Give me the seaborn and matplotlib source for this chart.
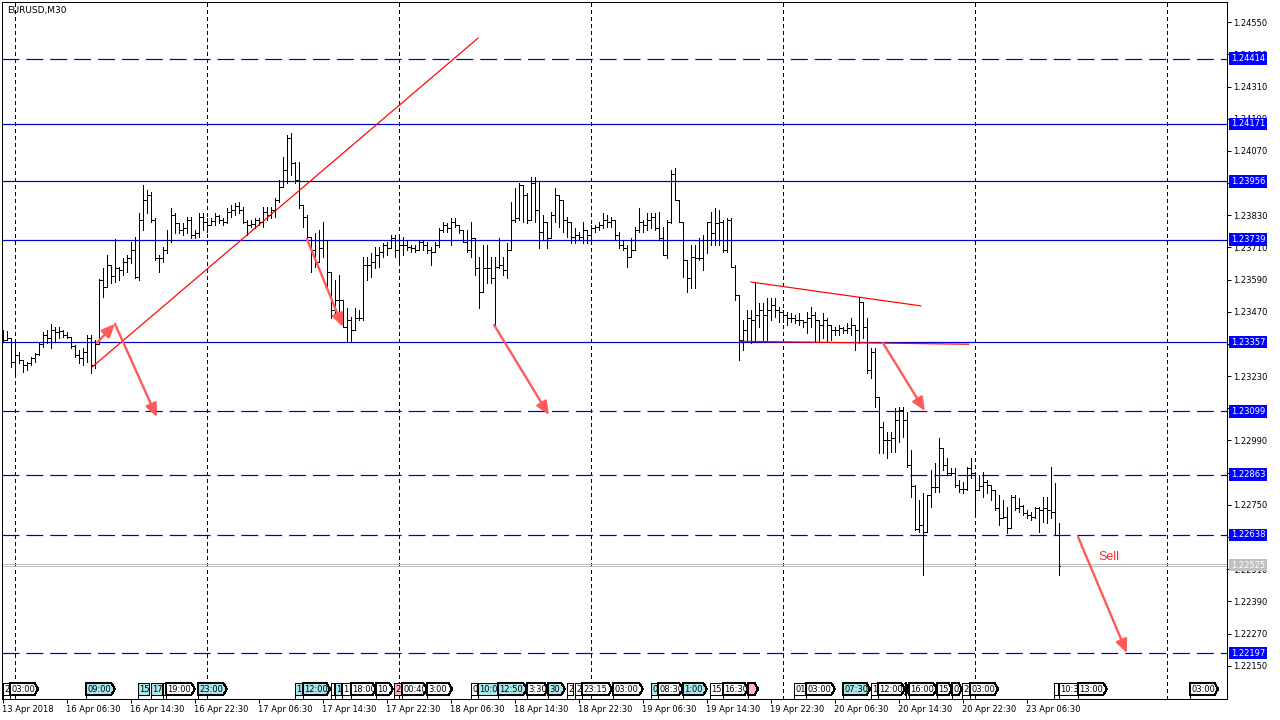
import numpy as np
import pandas as pd
import matplotlib
matplotlib.use("Agg")
import matplotlib.pyplot as plt
import matplotlib.transforms as mtrans
from matplotlib.collections import LineCollection
from matplotlib.patches import Polygon
import seaborn as sns

sns.set_style("white")
plt.rcParams['font.family'] = ['DejaVu Sans']
plt.rcParams['lines.scale_dashes'] = False

# EURUSD M30 bars, 13 Apr 22:30 .. 23 Apr 10:30
first_open = 1.23372
high = [1.23402, 1.23398, 1.23357, 1.23357, 1.23320, 1.23290, 1.23283, 1.23302, 1.23316, 1.23357,
        1.23395, 1.23402, 1.23425, 1.23413, 1.23413, 1.23402, 1.23395, 1.23376, 1.23346, 1.23328,
        1.23335, 1.23383, 1.23383, 1.23365, 1.23592, 1.23633, 1.23682, 1.23645, 1.23742, 1.23637,
        1.23671, 1.23682, 1.23730, 1.23749, 1.23838, 1.23943, 1.23924, 1.23917, 1.23820, 1.23682,
        1.23712, 1.23775, 1.23857, 1.23838, 1.23801, 1.23801, 1.23824, 1.23824, 1.23775, 1.23838,
        1.23838, 1.23820, 1.23820, 1.23838, 1.23831, 1.23820, 1.23857, 1.23868, 1.23876, 1.23880,
        1.23861, 1.23812, 1.23812, 1.23820, 1.23820, 1.23861, 1.23861, 1.23861, 1.23895, 1.23962,
        1.24047, 1.24129, 1.24137, 1.24029, 1.24029, 1.23868, 1.23831, 1.23738, 1.23764, 1.23775,
        1.23805, 1.23674, 1.23607, 1.23589, 1.23607, 1.23514, 1.23484, 1.23451, 1.23484, 1.23477,
        1.23674, 1.23674, 1.23689, 1.23712, 1.23712, 1.23727, 1.23730, 1.23757, 1.23757, 1.23745,
        1.23749, 1.23738, 1.23719, 1.23719, 1.23738, 1.23738, 1.23730, 1.23712, 1.23730, 1.23783,
        1.23805, 1.23801, 1.23820, 1.23820, 1.23794, 1.23775, 1.23775, 1.23805, 1.23745, 1.23674,
        1.23719, 1.23719, 1.23674, 1.23674, 1.23745, 1.23674, 1.23727, 1.23880, 1.23932, 1.23950,
        1.23924, 1.23913, 1.23973, 1.23973, 1.23954, 1.23831, 1.23805, 1.23842, 1.23932, 1.23906,
        1.23868, 1.23824, 1.23786, 1.23783, 1.23768, 1.23805, 1.23775, 1.23794, 1.23794, 1.23805,
        1.23838, 1.23831, 1.23824, 1.23775, 1.23768, 1.23738, 1.23719, 1.23745, 1.23786, 1.23857,
        1.23812, 1.23838, 1.23838, 1.23838, 1.23842, 1.23786, 1.23812, 1.23999, 1.24006, 1.23887,
        1.23805, 1.23663, 1.23719, 1.23719, 1.23745, 1.23757, 1.23805, 1.23842, 1.23857, 1.23850,
        1.23812, 1.23820, 1.23820, 1.23645, 1.23533, 1.23439, 1.23477, 1.23477, 1.23581, 1.23503,
        1.23503, 1.23521, 1.23521, 1.23521, 1.23488, 1.23477, 1.23469, 1.23465, 1.23458, 1.23465,
        1.23439, 1.23469, 1.23488, 1.23469, 1.23432, 1.23465, 1.23447, 1.23421, 1.23413, 1.23421,
        1.23413, 1.23428, 1.23447, 1.23421, 1.23525, 1.23439, 1.23447, 1.23335, 1.23335, 1.23152,
        1.23059, 1.23022, 1.23022, 1.23111, 1.23115, 1.23115, 1.23096, 1.22955, 1.22824, 1.22768,
        1.22794, 1.22787, 1.22880, 1.22906, 1.22999, 1.22962, 1.22925, 1.22887, 1.22887, 1.22843,
        1.22835, 1.22891, 1.22925, 1.22869, 1.22861, 1.22872, 1.22843, 1.22824, 1.22805, 1.22787,
        1.22768, 1.22742, 1.22787, 1.22787, 1.22776, 1.22749, 1.22731, 1.22723, 1.22742, 1.22742,
        1.22779, 1.22779, 1.22891, 1.22831, 1.22682]
low = [1.23357, 1.23368, 1.23264, 1.23227, 1.23279, 1.23245, 1.23253, 1.23272, 1.23283, 1.23309,
       1.23339, 1.23354, 1.23335, 1.23357, 1.23372, 1.23376, 1.23372, 1.23335, 1.23302, 1.23279,
       1.23272, 1.23283, 1.23242, 1.23260, 1.23354, 1.23525, 1.23562, 1.23577, 1.23581, 1.23589,
       1.23607, 1.23618, 1.23652, 1.23596, 1.23589, 1.23775, 1.23838, 1.23805, 1.23663, 1.23618,
       1.23656, 1.23689, 1.23730, 1.23764, 1.23764, 1.23757, 1.23764, 1.23745, 1.23745, 1.23749,
       1.23775, 1.23768, 1.23794, 1.23794, 1.23801, 1.23794, 1.23801, 1.23824, 1.23831, 1.23838,
       1.23801, 1.23757, 1.23786, 1.23783, 1.23794, 1.23786, 1.23812, 1.23820, 1.23824, 1.23880,
       1.23943, 1.23950, 1.23980, 1.23950, 1.23857, 1.23786, 1.23745, 1.23618, 1.23637, 1.23663,
       1.23674, 1.23559, 1.23447, 1.23465, 1.23451, 1.23413, 1.23357, 1.23357, 1.23402, 1.23439,
       1.23439, 1.23589, 1.23600, 1.23633, 1.23637, 1.23674, 1.23682, 1.23708, 1.23674, 1.23656,
       1.23682, 1.23701, 1.23693, 1.23693, 1.23701, 1.23701, 1.23689, 1.23645, 1.23708, 1.23712,
       1.23768, 1.23768, 1.23719, 1.23786, 1.23764, 1.23730, 1.23693, 1.23674, 1.23607, 1.23484,
       1.23589, 1.23577, 1.23577, 1.23421, 1.23633, 1.23607, 1.23596, 1.23708, 1.23805, 1.23812,
       1.23805, 1.23801, 1.23850, 1.23805, 1.23708, 1.23738, 1.23708, 1.23749, 1.23805, 1.23786,
       1.23768, 1.23749, 1.23727, 1.23727, 1.23738, 1.23727, 1.23727, 1.23730, 1.23768, 1.23775,
       1.23783, 1.23786, 1.23786, 1.23738, 1.23708, 1.23701, 1.23637, 1.23674, 1.23730, 1.23768,
       1.23768, 1.23775, 1.23783, 1.23775, 1.23738, 1.23682, 1.23671, 1.23801, 1.23887, 1.23805,
       1.23600, 1.23544, 1.23559, 1.23559, 1.23663, 1.23626, 1.23689, 1.23719, 1.23719, 1.23719,
       1.23693, 1.23693, 1.23637, 1.23514, 1.23290, 1.23328, 1.23357, 1.23354, 1.23357, 1.23413,
       1.23365, 1.23365, 1.23439, 1.23451, 1.23432, 1.23432, 1.23421, 1.23432, 1.23428, 1.23421,
       1.23413, 1.23391, 1.23413, 1.23357, 1.23357, 1.23372, 1.23357, 1.23365, 1.23383, 1.23383,
       1.23391, 1.23391, 1.23383, 1.23328, 1.23354, 1.23372, 1.23242, 1.23223, 1.23115, 1.22943,
       1.22943, 1.22925, 1.22947, 1.22947, 1.22984, 1.23003, 1.22891, 1.22779, 1.22656, 1.22649,
       1.22488, 1.22701, 1.22742, 1.22798, 1.22798, 1.22880, 1.22861, 1.22861, 1.22816, 1.22798,
       1.22794, 1.22805, 1.22850, 1.22719, 1.22805, 1.22779, 1.22794, 1.22768, 1.22731, 1.22675,
       1.22701, 1.22645, 1.22664, 1.22731, 1.22723, 1.22712, 1.22701, 1.22693, 1.22701, 1.22649,
       1.22686, 1.22682, 1.22701, 1.22638, 1.22488]
close = [1.23365, 1.23372, 1.23283, 1.23309, 1.23290, 1.23272, 1.23279, 1.23298, 1.23313, 1.23350,
         1.23383, 1.23372, 1.23402, 1.23395, 1.23398, 1.23383, 1.23376, 1.23342, 1.23309, 1.23298,
         1.23320, 1.23372, 1.23272, 1.23350, 1.23589, 1.23562, 1.23645, 1.23604, 1.23633, 1.23626,
         1.23656, 1.23671, 1.23701, 1.23600, 1.23812, 1.23887, 1.23906, 1.23812, 1.23671, 1.23671,
         1.23701, 1.23738, 1.23831, 1.23801, 1.23775, 1.23783, 1.23812, 1.23757, 1.23764, 1.23824,
         1.23805, 1.23794, 1.23809, 1.23827, 1.23812, 1.23805, 1.23842, 1.23850, 1.23865, 1.23850,
         1.23805, 1.23794, 1.23798, 1.23812, 1.23805, 1.23842, 1.23831, 1.23850, 1.23887, 1.23936,
         1.23999, 1.24118, 1.24025, 1.23962, 1.23868, 1.23824, 1.23749, 1.23701, 1.23656, 1.23708,
         1.23738, 1.23618, 1.23477, 1.23514, 1.23514, 1.23413, 1.23439, 1.23402, 1.23447, 1.23447,
         1.23645, 1.23645, 1.23656, 1.23682, 1.23693, 1.23719, 1.23708, 1.23745, 1.23701, 1.23719,
         1.23719, 1.23712, 1.23708, 1.23701, 1.23730, 1.23719, 1.23701, 1.23693, 1.23719, 1.23775,
         1.23794, 1.23783, 1.23805, 1.23794, 1.23775, 1.23730, 1.23701, 1.23745, 1.23633, 1.23544,
         1.23633, 1.23633, 1.23596, 1.23637, 1.23645, 1.23626, 1.23701, 1.23812, 1.23820, 1.23943,
         1.23906, 1.23812, 1.23950, 1.23850, 1.23768, 1.23805, 1.23745, 1.23831, 1.23906, 1.23887,
         1.23812, 1.23805, 1.23749, 1.23757, 1.23749, 1.23775, 1.23757, 1.23783, 1.23786, 1.23794,
         1.23812, 1.23805, 1.23812, 1.23757, 1.23719, 1.23708, 1.23674, 1.23701, 1.23775, 1.23805,
         1.23794, 1.23812, 1.23824, 1.23783, 1.23745, 1.23682, 1.23805, 1.23984, 1.23887, 1.23805,
         1.23663, 1.23596, 1.23674, 1.23671, 1.23671, 1.23738, 1.23805, 1.23764, 1.23801, 1.23805,
         1.23701, 1.23812, 1.23637, 1.23533, 1.23365, 1.23402, 1.23447, 1.23439, 1.23458, 1.23477,
         1.23458, 1.23477, 1.23495, 1.23477, 1.23469, 1.23458, 1.23447, 1.23447, 1.23439, 1.23439,
         1.23432, 1.23447, 1.23458, 1.23439, 1.23421, 1.23439, 1.23421, 1.23402, 1.23402, 1.23409,
         1.23402, 1.23409, 1.23421, 1.23402, 1.23506, 1.23413, 1.23253, 1.23320, 1.23152, 1.23040,
         1.22992, 1.22992, 1.22999, 1.23066, 1.23104, 1.23066, 1.22899, 1.22820, 1.22660, 1.22675,
         1.22649, 1.22787, 1.22816, 1.22816, 1.22962, 1.22899, 1.22869, 1.22869, 1.22824, 1.22809,
         1.22809, 1.22887, 1.22869, 1.22805, 1.22820, 1.22835, 1.22824, 1.22805, 1.22738, 1.22701,
         1.22705, 1.22664, 1.22779, 1.22738, 1.22746, 1.22719, 1.22712, 1.22705, 1.22738, 1.22731,
         1.22738, 1.22731, 1.22723, 1.22638, 1.22522]

# axis labels
date_bars = [0, 16, 32, 48, 64, 80, 96, 112, 128, 144, 160, 176, 192, 208, 224, 240, 256]
date_labels = ['13 Apr 2018', '16 Apr 06:30', '16 Apr 14:30', '16 Apr 22:30', '17 Apr 06:30',
               '17 Apr 14:30', '17 Apr 22:30', '18 Apr 06:30', '18 Apr 14:30', '18 Apr 22:30',
               '19 Apr 06:30', '19 Apr 14:30', '19 Apr 22:30', '20 Apr 06:30', '20 Apr 14:30',
               '20 Apr 22:30', '23 Apr 06:30']
day_starts = [3, 51, 99, 147, 195, 243, 291]
price_ticks = [1.22150, 1.22270, 1.22390, 1.22510, 1.22630, 1.22750, 1.22870, 1.22990, 1.23110,
               1.23230, 1.23350, 1.23470, 1.23590, 1.23710, 1.23830, 1.23950, 1.24070, 1.24190,
               1.24310, 1.24430, 1.24550]

# horizontal levels
solid_levels = [1.24171, 1.23956, 1.23739, 1.23357]
dashed_levels = [1.24414, 1.23099, 1.22863, 1.22638, 1.22197]
bid = 1.22525

# red trend lines: (name, bar, price)
trend = pd.DataFrame({
    'name': ['up', 'up', 'top', 'top', 'base', 'base'],
    'bar': [22.4, 118.9, 187.1, 229.6, 184.4, 241.6],
    'price': [1.23264, 1.24491, 1.23581, 1.23492, 1.23360, 1.23349],
})

# arrows: (bar0, price0, bar1, price1)
arrows = [(23.6, 1.23354, 28.1, 1.23425),
          (28.1, 1.23425, 38.6, 1.23077),
          (76.1, 1.23742, 85.1, 1.23413),
          (122.9, 1.23421, 136.6, 1.23085),
          (220.1, 1.23354, 230.6, 1.23100),
          (268.9, 1.22630, 281.1, 1.22197)]

# calendar event tags along the bottom: (start bar, end bar, text, kind, pointed)
events = [(0.1, 1.6, '2', 'w', False), (1.9, 8.9, '03:00', 'w', True),
          (20.9, 28.1, '09:00', 'c', True), (33.9, 36.6, '15', 'c', False),
          (37.1, 39.9, '17', 'c', False), (40.1, 40.6, '', 'w', False),
          (40.9, 48.1, '19:00', 'w', True), (48.9, 56.1, '23:00', 'c', True),
          (73.1, 74.9, '1', 'c', False), (75.1, 81.9, '12:00', 'c', True),
          (82.1, 82.9, '', 'w', False), (83.1, 84.6, '1', 'c', False),
          (84.9, 86.9, '1', 'w', False), (87.1, 93.4, '18:00', 'w', True),
          (93.4, 97.6, '10', 'w', True), (97.9, 99.6, '2', 'p', False),
          (99.9, 106.1, '00:40', 'w', True), (106.1, 112.4, '3:00', 'w', True),
          (117.1, 118.6, '0', 'w', False), (118.9, 123.6, '10:0', 'c', False),
          (123.9, 131.1, '12:50', 'c', True), (131.1, 136.4, '3:30', 'w', True),
          (136.4, 140.6, '30', 'c', True), (141.1, 142.6, '2', 'w', False),
          (143.1, 144.9, '2', 'w', False), (144.9, 152.4, '23:15', 'w', True),
          (152.6, 160.1, '03:00', 'w', True), (162.1, 163.6, '0', 'c', False),
          (163.9, 170.1, '08:30', 'w', True), (170.1, 176.1, '1:00', 'c', True),
          (176.9, 179.9, '15', 'w', False), (180.1, 186.4, '16:30', 'w', True),
          (186.4, 188.9, '', 'p', True), (197.9, 200.9, '01', 'w', False),
          (200.9, 208.1, '03:00', 'w', True), (210.1, 216.9, '07:30', 'c', True),
          (217.1, 218.6, '1', 'w', False), (218.9, 225.6, '12:00', 'w', True),
          (225.9, 226.6, '', 'w', True), (226.6, 233.6, '16:00', 'w', True),
          (233.6, 237.4, '15', 'w', True), (237.4, 239.9, '0', 'w', True),
          (239.9, 241.6, '2', 'w', False), (241.9, 248.9, '03:00', 'w', True),
          (262.9, 263.9, '', 'w', False), (264.1, 268.9, '10:3', 'w', False),
          (268.9, 276.1, '13:00', 'w', True), (296.9, 303.9, '03:00', 'w', True)]
event_fill = {'w': 'white', 'c': '#A8E6EC', 'p': '#FFB4BC'}

LINE_BLUE = '#0000CD'
PX = 0.72  # one pixel in points

fig = plt.figure(figsize=(12.8, 7.2), dpi=100)
ax = fig.add_axes([2 / 1280, 21 / 720, 1225 / 1280, 697 / 720])
ax.set_facecolor('white')
ax.set_xlim(-0.125, 306.125)
ax.set_ylim(1.220257, 1.246255)

# OHLC bars
opens = [first_open] + close[:-1]
segs = []
for i, (o, h, l, c) in enumerate(zip(opens, high, low, close)):
    hi, lo = max(h, o, c), min(l, o, c)
    segs.append([(i, lo), (i, hi)])
    segs.append([(i - 0.3, o), (i, o)])
    segs.append([(i, c), (i + 0.3, c)])
ax.add_collection(LineCollection(segs, colors='black', linewidths=PX, antialiaseds=False, zorder=3))

# day separators
for d in day_starts:
    ax.axvline(d, color='black', lw=PX, ls=(0, (2.2, 2.2)), antialiased=False, zorder=1)

# horizontal levels
for lv in solid_levels:
    ax.axhline(lv, color=LINE_BLUE, lw=PX * 1.2, zorder=2)
for lv in dashed_levels:
    ax.axhline(lv, color=LINE_BLUE, lw=PX * 1.2, ls=(0, (12.2, 5.0)), zorder=2)
ax.axhline(bid + 0.00005, color='#C0C0C0', lw=PX, zorder=2)
ax.axhline(bid - 0.00003, color='#C0C0C0', lw=PX, zorder=2)

# red trend lines
sns.lineplot(data=trend, x='bar', y='price', units='name', estimator=None,
             color='#FF0000', lw=PX * 1.2, ax=ax, legend=False, zorder=4)

for b0, p0, b1, p1 in arrows:
    ax.annotate('', xy=(b1, p1), xytext=(b0, p0),
                arrowprops=dict(arrowstyle='-|>,head_length=0.8,head_width=0.35',
                                color='#FF5A5A', lw=1.7, shrinkA=0, shrinkB=0,
                                mutation_scale=10), zorder=5)

ax.text(273.9, 1.22555, 'Sell', color='#FF2A2A', fontsize=9, family='Liberation Sans',
        ha='left', va='center', zorder=6)
ax.text(0.004, 0.9885, 'EURUSD,M30', transform=ax.transAxes, fontsize=6.5,
        ha='left', va='center', color='black', zorder=6)

# axes styling
for sp in ax.spines.values():
    sp.set_color('black')
    sp.set_linewidth(PX)
    sp.set_visible(True)

# scale labels that sit fully under a level box are not shown
box_levels = solid_levels + dashed_levels + [bid]
shown = [p for p in price_ticks if min(abs(p - b) for b in box_levels) > 0.0001]
ax.yaxis.tick_right()
ax.set_yticks(price_ticks)
ax.set_yticklabels([f'{p:.5f}' if p in shown else '' for p in price_ticks])
ax.tick_params(axis='y', which='both', direction='out', length=2.9, width=PX, pad=1.5,
               labelsize=6, colors='black', right=True, left=False,
               labelright=True, labelleft=False)
ax.set_xticks(date_bars)
ax.set_xticklabels(date_labels)
for lab in ax.get_xticklabels():
    lab.set_ha('left')
ax.tick_params(axis='x', direction='out', length=2.9, width=PX, pad=1.5,
               labelsize=6, colors='black', bottom=True)
ax.set_xlabel('')
ax.set_ylabel('')

# price boxes on the right scale
ytrans = mtrans.blended_transform_factory(ax.transAxes, ax.transData)
for lv in solid_levels + dashed_levels:
    ax.text(1 + 4 / 1225, lv, f'{lv:.5f}', transform=ytrans, ha='left', va='center',
            color='white', fontsize=6, clip_on=False, zorder=7,
            bbox=dict(boxstyle='square,pad=0.22', fc='#0000FF', ec='none'))
ax.text(1 + 4 / 1225, bid, f'{bid:.5f}', transform=ytrans, ha='left', va='center',
        color='white', fontsize=6, clip_on=False, zorder=7,
        bbox=dict(boxstyle='square,pad=0.22', fc='#C0C0C0', ec='none'))

# event tags
xtrans = mtrans.blended_transform_factory(ax.transData, ax.transAxes)
yt, yb = 16 / 697, 4 / 697
ym = (yt + yb) / 2
for x0, x1, txt, kind, pointed in events:
    if pointed:
        verts = [(x0, yb), (x1 - 0.9, yb), (x1, ym), (x1 - 0.9, yt), (x0, yt)]
    else:
        verts = [(x0, yb), (x1, yb), (x1, yt), (x0, yt)]
    patch = Polygon(verts, closed=True, transform=xtrans, fc=event_fill[kind],
                    ec='black', lw=PX, antialiased=False, zorder=6)
    ax.add_patch(patch)
    ax.plot([x0, x0], [0, yb], transform=xtrans, color='black', lw=PX,
            antialiased=False, zorder=6)
    if txt:
        t = ax.text(x0 + 0.3, ym, txt, transform=xtrans, fontsize=6, ha='left',
                    va='center', color='black', zorder=7, clip_on=True)
        t.set_clip_path(patch)

fig.savefig('out.png', dpi=100, facecolor='white')
